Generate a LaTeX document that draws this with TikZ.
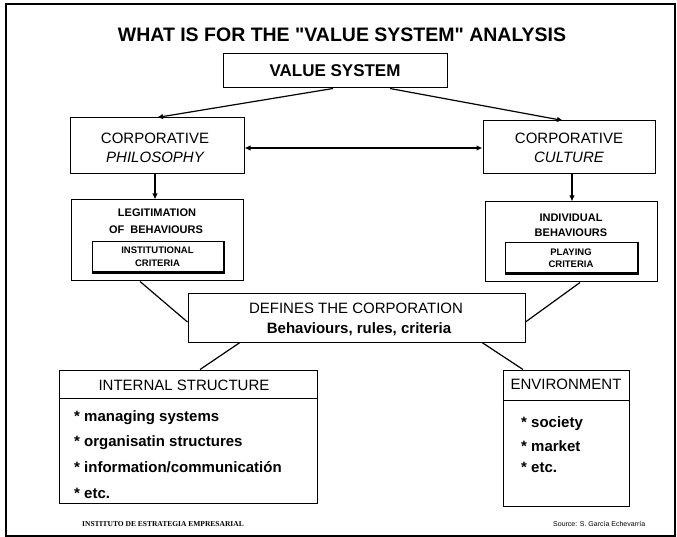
\documentclass[tikz,border=0pt]{standalone}
\usepackage{fontspec}
\setmainfont{Liberation Sans}
\newfontfamily\titlefont{Liberation Sans}[Ligatures=TeXOff]
\newfontfamily\footserif{Liberation Serif}
\usetikzlibrary{arrows.meta}
\newcommand{\fs}[1]{\fontsize{#1}{#1}\selectfont}
\begin{document}
\begin{tikzpicture}[x=1pt,y=-1pt,
  box/.style={draw, line width=1pt, rectangle, inner sep=0pt},
  txt/.style={inner sep=0pt, anchor=base},
  itemtxt/.style={inner sep=0pt, anchor=base west, font=\fs{15}\bfseries},
  conn/.style={line width=1.2pt},
  arr/.style={line width=1.2pt, -{Latex[length=6pt,width=5.5pt]}},
  dbl/.style={line width=1.2pt, {Latex[length=6pt,width=5.5pt]}-{Latex[length=6pt,width=5.5pt]}}]
\useasboundingbox (0,0) rectangle (677,537);
% frame
\draw[line width=1.1pt] (6,4) rectangle (675,536);
% title
\node[txt, font=\fs{19.5}\titlefont\bfseries] (title) at (342,42) {WHAT IS FOR THE "VALUE SYSTEM" ANALYSIS};
% value system
\node[box, minimum width=224pt, minimum height=34pt, font=\fs{17}\bfseries] (vs) at (335,71) {VALUE SYSTEM};
% corporative philosophy / culture
\node[box, minimum width=174pt, minimum height=56pt] (phil) at (157,146) {};
\node[txt, font=\fs{15}] (philA) at (155,143.4) {CORPORATIVE};
\node[txt, font=\fs{15}\itshape] (philB) at (155,162.4) {PHILOSOPHY};
\node[box, minimum width=172pt, minimum height=53pt] (cult) at (569,147.5) {};
\node[txt, font=\fs{15}] (cultA) at (569,143.4) {CORPORATIVE};
\node[txt, font=\fs{15}\itshape] (cultB) at (569,162.4) {CULTURE};
% legitimation
\node[box, minimum width=172pt, minimum height=81pt] (leg) at (157,240.5) {};
\node[txt, font=\fs{11}\bfseries] (legA) at (157,217) {LEGITIMATION};
\node[txt, font=\fs{11}\bfseries] (legB) at (156,234) {OF\ \ BEHAVIOURS};
\node[box, minimum width=131pt, minimum height=30pt] (inst) at (157.5,257) {};
\draw[line width=2.2pt] ([xshift=0.5pt]inst.north east) -- ([xshift=0.5pt,yshift=-0.5pt]inst.south east) -- ([yshift=-0.5pt]inst.south west);
\node[txt, font=\fs{9.5}\bfseries] (instA) at (157.5,253.4) {INSTITUTIONAL};
\node[txt, font=\fs{9.5}\bfseries] (instB) at (157.5,266.4) {CRITERIA};
% individual
\node[box, minimum width=172pt, minimum height=80pt] (ind) at (571,242) {};
\node[txt, font=\fs{11}\bfseries] (indA) at (571,222) {INDIVIDUAL};
\node[txt, font=\fs{11}\bfseries] (indB) at (571,237) {BEHAVIOURS};
\node[box, minimum width=132pt, minimum height=30pt] (play) at (571,258) {};
\draw[line width=2.2pt] ([xshift=0.5pt]play.north east) -- ([xshift=0.5pt,yshift=-0.5pt]play.south east) -- ([yshift=-0.5pt]play.south west);
\node[txt, font=\fs{9.5}\bfseries] (playA) at (571,255.5) {PLAYING};
\node[txt, font=\fs{9.5}\bfseries] (playB) at (571,268) {CRITERIA};
% defines
\node[box, minimum width=337pt, minimum height=49pt] (def) at (356.5,317.5) {};
\node[txt, font=\fs{15}] (defA) at (356,313.4) {DEFINES THE CORPORATION};
\node[txt, font=\fs{15}\bfseries] (defB) at (359,333.4) {Behaviours, rules, criteria};
% internal structure
\node[box, minimum width=258pt, minimum height=133pt] (int) at (188,436.5) {};
\draw[line width=1pt] (int.west |- 0,398) -- (int.east |- 0,398);
\node[txt, font=\fs{15}] (intH) at (184,390.5) {INTERNAL STRUCTURE};
\node[itemtxt] (i1) at (74,421) {* managing systems};
\node[itemtxt] (i2) at (74,446) {* organisatin structures};
\node[itemtxt] (i3) at (74,472) {* information/communicatión};
\node[itemtxt] (i4) at (74,498) {* etc.};
% environment
\node[box, minimum width=126pt, minimum height=136pt] (env) at (566,438) {};
\draw[line width=1pt] (env.west |- 0,400) -- (env.east |- 0,400);
\node[txt, font=\fs{15}] (envH) at (566,389.5) {ENVIRONMENT};
\node[itemtxt] (e1) at (521,427) {* society};
\node[itemtxt] (e2) at (521,451) {* market};
\node[itemtxt] (e3) at (521,472) {* etc.};
% footer
\node[txt, anchor=base west, font=\fs{7.5}\footserif\bfseries] (foot) at (82,526) {INSTITUTO DE ESTRATEGIA EMPRESARIAL};
\node[txt, anchor=base west, font=\fs{7}] (src) at (553,526) {Source: S. García Echevarría};
% connectors
\draw[arr] ([xshift=-2pt]vs.south) -- (phil.north);
\draw[arr] ([xshift=55pt]vs.south) -- ([xshift=-6pt]cult.north);
\draw[dbl] ([yshift=-2pt]phil.east) -- ([yshift=-0.5pt]cult.west);
\draw[arr] ([xshift=-2pt]phil.south) -- ([xshift=-2pt]leg.north);
\draw[arr] ([xshift=3pt]cult.south) -- ([xshift=1pt]ind.north);
\draw[conn] ([xshift=-17pt]leg.south) -- ([yshift=-4.5pt]def.west);
\draw[conn] ([xshift=9pt]ind.south) -- ([yshift=-4.5pt]def.east);
\draw[conn] ([xshift=-116.5pt]def.south) -- ([xshift=12pt]int.north);
\draw[conn] ([xshift=125.5pt]def.south) -- ([xshift=-43pt]env.north);
\end{tikzpicture}
\end{document}
